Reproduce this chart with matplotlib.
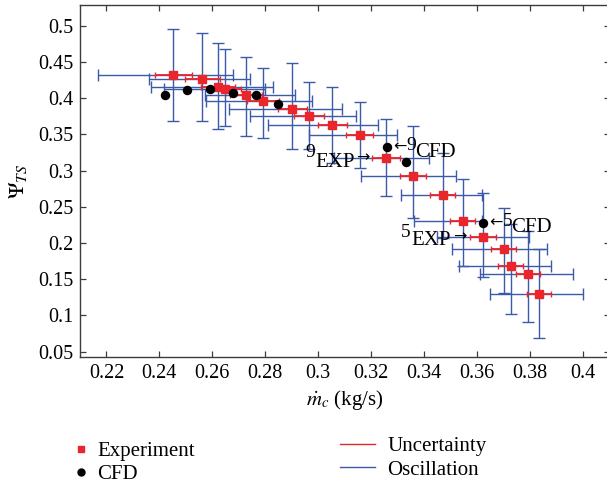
import numpy as np
import matplotlib.pyplot as plt
from matplotlib.lines import Line2D
from matplotlib.ticker import FuncFormatter

plt.rcParams['font.family'] = ['Liberation Serif', 'DejaVu Serif']
plt.rcParams['mathtext.fontset'] = 'stix'

# experiment points (red squares)
exp_x = [0.2452, 0.2562, 0.2621, 0.2647, 0.2727, 0.2791, 0.2901, 0.2965, 0.3053, 0.3156,
         0.3257, 0.3357, 0.3470, 0.3545, 0.3622, 0.3700, 0.3727, 0.3793, 0.3834]
exp_y = [0.4320, 0.4268, 0.4153, 0.4126, 0.4039, 0.3960, 0.3854, 0.3749, 0.3628, 0.3486,
         0.3169, 0.2928, 0.2662, 0.2307, 0.2077, 0.1916, 0.1685, 0.1570, 0.1294]
# measurement uncertainty (red), half width in x
unc_x = [0.0070, 0.0065, 0.0065, 0.0062, 0.0060, 0.0060, 0.0055, 0.0055, 0.0055, 0.0052,
         0.0053, 0.0049, 0.0048, 0.0048, 0.0048, 0.0047, 0.0047, 0.0045, 0.0045]
# oscillation range (blue)
osc_xlo = [0.2167, 0.2360, 0.2369, 0.2416, 0.2574, 0.2575, 0.2664, 0.2743, 0.2810, 0.2966,
           0.3060, 0.3160, 0.3313, 0.3360, 0.3450, 0.3505, 0.3533, 0.3609, 0.3647]
osc_xhi = [0.2677, 0.2743, 0.2828, 0.2800, 0.2913, 0.2976, 0.3089, 0.3142, 0.3224, 0.3297,
           0.3420, 0.3520, 0.3620, 0.3618, 0.3795, 0.3865, 0.3880, 0.3963, 0.4000]
osc_ylo = [0.3688, 0.3688, 0.3573, 0.3611, 0.3477, 0.3453, 0.3297, 0.3293, 0.3110, 0.3030,
           0.2644, 0.2340, 0.2064, 0.1681, 0.1533, 0.1304, 0.1018, 0.0908, 0.0690]
osc_yhi = [0.4954, 0.4895, 0.4757, 0.4678, 0.4564, 0.4420, 0.4481, 0.4218, 0.4155, 0.3946,
           0.3711, 0.3619, 0.3238, 0.2879, 0.2685, 0.2478, 0.2261, 0.2164, 0.1920]

# CFD points (black)
cfd_x = [0.2420, 0.2504, 0.2591, 0.2677, 0.2763, 0.2849, 0.3259, 0.3332, 0.3622]
cfd_y = [0.4040, 0.4112, 0.4130, 0.4070, 0.4039, 0.3923, 0.3330, 0.3122, 0.2280]

x_ticks = [0.22, 0.24, 0.26, 0.28, 0.30, 0.32, 0.34, 0.36, 0.38, 0.40]
y_ticks = [0.05, 0.10, 0.15, 0.20, 0.25, 0.30, 0.35, 0.40, 0.45, 0.50]

RED = '#e8262b'
BLUE = '#3b5ba9'

ex = np.array(exp_x)
ey = np.array(exp_y)
xerr_osc = [ex - np.array(osc_xlo), np.array(osc_xhi) - ex]
yerr_osc = [ey - np.array(osc_ylo), np.array(osc_yhi) - ey]

fig = plt.figure(figsize=(6.07, 4.87), dpi=100)
ax = fig.add_axes([80/607, 1-357/487, (609.5-80)/607, (357-4.7)/487])

ax.errorbar(ex, ey, xerr=xerr_osc, yerr=yerr_osc, fmt='none', ecolor=BLUE,
            elinewidth=1.0, capsize=4.5, capthick=1.0, zorder=2)
ax.errorbar(ex, ey, xerr=unc_x, fmt='none', ecolor=RED,
            elinewidth=1.3, capsize=2.2, capthick=1.0, zorder=3)
ax.plot(ex, ey, 's', color=RED, ms=5.2, mec=RED, zorder=4)
ax.plot(cfd_x, cfd_y, 'o', color='black', ms=5.8, zorder=5)


def label(x, y, s, dx, dy, ha, size=15, family=None):
    kw = {}
    if family:
        kw['family'] = family
    ax.annotate(s, (x, y), xytext=(dx, dy), textcoords='offset pixels',
                ha=ha, va='center', fontsize=size, zorder=6, **kw)


# 9 / 5 annotations
label(exp_x[10], exp_y[10], '9', -71, 5.5, 'right', 14)
label(exp_x[10], exp_y[10], 'EXP', -31, -4.5, 'right')
label(exp_x[10], exp_y[10], '\u2192', -17, 0.5, 'right', 11.5, ['DejaVu Sans'])
label(exp_x[14], exp_y[14], '5', -72, 4.5, 'right', 14)
label(exp_x[14], exp_y[14], 'EXP', -32, -3.5, 'right')
label(exp_x[14], exp_y[14], '\u2192', -16, 0.5, 'right', 11.5, ['DejaVu Sans'])
label(cfd_x[6], cfd_y[6], '\u2190', 6, 0.5, 'left', 11.5, ['DejaVu Sans'])
label(cfd_x[6], cfd_y[6], '9', 19.5, 1.5, 'left', 14)
label(cfd_x[6], cfd_y[6], 'CFD', 28.5, -6, 'left')
label(cfd_x[8], cfd_y[8], '\u2190', 6, 0.5, 'left', 11.5, ['DejaVu Sans'])
label(cfd_x[8], cfd_y[8], '5', 19.5, 1.5, 'left', 14)
label(cfd_x[8], cfd_y[8], 'CFD', 28.5, -4.5, 'left')

ax.set_xlim(0.21, 0.41)
ax.set_ylim(0.0427, 0.529)
fmt = FuncFormatter(lambda v, p: '%g' % round(v, 3))
ax.set_xticks(x_ticks)
ax.set_yticks(y_ticks)
ax.xaxis.set_major_formatter(fmt)
ax.yaxis.set_major_formatter(fmt)
ax.tick_params(direction='in', top=True, right=True, length=4.5, width=0.9,
               labelsize=14.5, pad=5, color='#3c3c3c')
for sp in ax.spines.values():
    sp.set_color('#3c3c3c')
    sp.set_linewidth(1.0)

ax.set_xlabel(r'$\dot{m}_c$ (kg/s)', fontsize=15, labelpad=4)
ax.set_ylabel(r'$\Psi_{TS}$', fontsize=16, labelpad=6)

h1 = [Line2D([], [], ls='none', marker='s', color=RED, ms=4.2),
      Line2D([], [], ls='none', marker='o', color='black', ms=5)]
h2 = [Line2D([], [], color=RED, lw=1.0),
      Line2D([], [], color=BLUE, lw=1.0)]
fig.legend(h1, ['Experiment', 'CFD'], loc='center left',
           bbox_to_anchor=(73/607, 1-463/487), frameon=False, fontsize=15,
           handlelength=0.8, handletextpad=0.37, borderpad=0, borderaxespad=0,
           labelspacing=0.15)
fig.legend(h2, ['Uncertainty', 'Oscillation'], loc='center left',
           bbox_to_anchor=(340/607, 1-458/487), frameon=False, fontsize=15,
           handlelength=1.68, handletextpad=0.58, borderpad=0, borderaxespad=0,
           labelspacing=0.2)

fig.savefig('out.png', dpi=100)
